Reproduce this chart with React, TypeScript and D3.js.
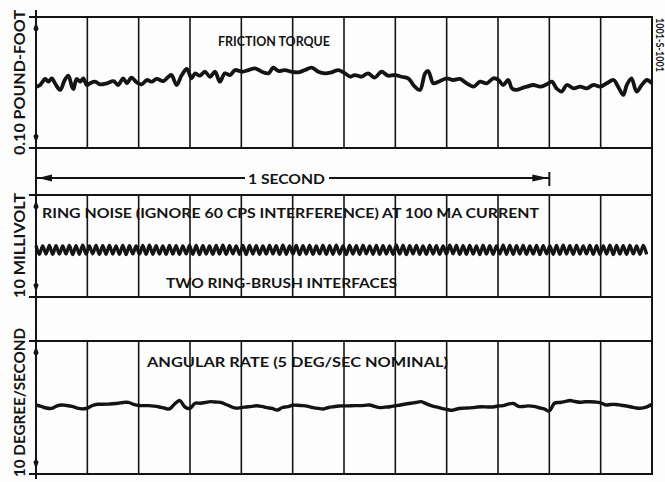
import React from "react";
import * as d3 from "d3";

// ---- Data ----
const gridTimesMs = [100, 200, 300, 400, 500, 600, 700, 800, 900, 1000, 1100];

// Friction torque trace (time in ms, torque in 0.001 lb-ft)
const torqueTime = [
  1, 8, 18, 24, 31, 37, 47, 56, 63, 70, 73, 79, 86, 92, 99, 105, 115, 125, 138, 151,
  160, 170, 177, 186, 196, 206, 216, 225, 235, 248, 258, 264, 274, 284, 294, 303, 310, 319, 329, 339,
  349, 358, 368, 378, 388, 401, 414, 427, 440, 453, 462, 472, 485, 498, 511, 524, 537, 550, 563, 576,
  589, 602, 612, 621, 634, 647, 660, 673, 686, 699, 712, 725, 738, 748, 758, 764, 774, 784, 800, 813,
  826, 839, 852, 865, 878, 891, 901, 910, 920, 927, 936, 946, 956, 969, 982, 995, 1005, 1014, 1024, 1034,
  1047, 1060, 1073, 1086, 1099, 1112, 1125, 1134, 1144, 1151, 1160, 1170, 1180, 1190, 1200,
];
const torqueValue = [
  46.8, 48.1, 52.7, 50.6, 53.2, 49.4, 44.3, 51.9, 55.2, 46.8, 45.0, 52.7, 50.6, 53.2, 48.1, 49.4, 50.6, 48.6, 49.4, 51.1,
  48.1, 53.2, 49.4, 53.7, 50.2, 48.6, 51.9, 50.6, 52.7, 51.1, 54.4, 55.7, 48.1, 55.7, 60.3, 53.2, 57.0, 55.2, 58.2, 54.4,
  58.2, 50.6, 57.0, 55.7, 59.5, 58.2, 59.5, 60.8, 58.2, 57.0, 61.3, 58.8, 59.5, 58.2, 57.8, 59.5, 61.3, 58.2, 57.0, 57.8,
  59.5, 57.0, 54.4, 55.7, 54.4, 57.0, 53.7, 58.2, 55.2, 55.7, 54.4, 53.2, 46.8, 44.3, 57.0, 58.8, 49.4, 50.6, 53.2, 51.9,
  52.7, 49.4, 46.8, 50.6, 49.4, 53.2, 51.9, 48.1, 51.9, 45.6, 44.3, 45.6, 46.8, 48.1, 46.8, 48.6, 50.6, 45.6, 43.0, 48.1,
  45.6, 46.8, 45.6, 48.1, 46.8, 49.4, 51.9, 46.8, 40.5, 48.1, 53.2, 43.0, 48.1, 51.9, 49.4,
];

// Ring noise (mV), successive crest / trough values, one every 6.5 ms
const ringStepMs = 6.5;
const ringNoise = [
  5.05, 4.18, 5.02, 4.21, 5.07, 4.17, 5.03, 4.20, 5.00, 4.22, 5.06, 4.16, 5.04, 4.19, 5.08, 4.20, 5.01, 4.23, 5.05, 4.17,
  5.03, 4.19, 5.06, 4.21, 5.02, 4.18, 5.07, 4.16, 5.04, 4.22, 5.00, 4.20, 5.05, 4.17, 5.08, 4.19, 5.03, 4.21, 5.01, 4.18,
  5.06, 4.20, 5.04, 4.17, 5.02, 4.22, 5.07, 4.19, 5.05, 4.16, 5.03, 4.21, 5.00, 4.18, 5.06, 4.20, 5.08, 4.17, 5.04, 4.23,
  5.02, 4.19, 5.05, 4.16, 5.07, 4.21, 5.03, 4.18, 5.01, 4.20, 5.06, 4.22, 5.04, 4.17, 5.08, 4.19, 5.02, 4.21, 5.05, 4.16,
  5.03, 4.20, 5.07, 4.18, 5.00, 4.22, 5.06, 4.17, 5.04, 4.19, 5.08, 4.21, 5.02, 4.16, 5.05, 4.20, 5.03, 4.18, 5.07, 4.23,
  5.01, 4.19, 5.06, 4.17, 5.04, 4.21, 5.02, 4.18, 5.08, 4.20, 5.05, 4.16, 5.03, 4.22, 5.07, 4.19, 5.00, 4.17, 5.06, 4.21,
  5.04, 4.18, 5.02, 4.20, 5.08, 4.23, 5.05, 4.17, 5.03, 4.19, 5.07, 4.21, 5.01, 4.16, 5.06, 4.20, 5.04, 4.18, 5.02, 4.22,
  5.08, 4.19, 5.05, 4.17, 5.03, 4.21, 5.07, 4.18, 5.00, 4.20, 5.06, 4.16, 5.04, 4.23, 5.02, 4.19, 5.05, 4.17, 5.08, 4.21,
  5.03, 4.18, 5.07, 4.20, 5.01, 4.22, 5.06, 4.17, 5.04, 4.19, 5.02, 4.21, 5.08, 4.16, 5.05, 4.20, 5.03, 4.18, 5.07, 4.22,
  5.01, 4.19, 5.06, 4.17,
];

// Angular rate (deg/s), one sample every 10 ms
const rateStepMs = 10;
const angularRate = [
  5.19, 5.09, 4.96, 4.93, 5.11, 5.19, 5.15, 5.08, 4.96, 4.90,
  4.96, 5.15, 5.24, 5.24, 5.25, 5.28, 5.32, 5.38, 5.38, 5.24,
  5.15, 5.14, 5.14, 5.10, 5.04, 4.96, 4.89, 5.26, 5.53, 5.04,
  4.93, 5.32, 5.32, 5.38, 5.44, 5.41, 5.39, 5.23, 5.06, 4.95,
  5.00, 5.04, 5.08, 5.13, 5.08, 4.99, 4.93, 4.81, 5.00, 5.06,
  5.17, 5.17, 5.14, 5.08, 4.99, 4.93, 4.89, 5.00, 5.06, 5.11,
  5.12, 5.12, 5.14, 5.14, 5.16, 5.19, 5.08, 4.99, 5.03, 5.06,
  5.13, 5.19, 5.26, 5.32, 5.38, 5.44, 5.29, 5.14, 5.04, 4.94,
  4.86, 4.79, 4.89, 4.94, 4.96, 4.99, 5.04, 5.06, 5.04, 5.04,
  5.11, 5.14, 5.26, 5.30, 5.08, 5.08, 5.12, 5.08, 4.98, 4.89,
  4.74, 5.32, 5.38, 5.44, 5.53, 5.45, 5.39, 5.43, 5.43, 5.41,
  5.35, 5.19, 5.23, 5.23, 5.17, 5.11, 5.04, 4.96, 4.95, 5.04,
  5.24,
];

const axisLabels = ["0.10 POUND-FOOT", "10 MILLIVOLT", "10 DEGREE/SECOND"];
const titles = {
  friction: "FRICTION TORQUE",
  second: "1 SECOND",
  ring: "RING NOISE (IGNORE 60 CPS INTERFERENCE) AT 100 MA CURRENT",
  ring2: "TWO RING-BRUSH INTERFACES",
  rate: "ANGULAR RATE (5 DEG/SEC NOMINAL)",
  figId: "1001-S-1001",
};

// ---- Layout ----
const W = 665;
const H = 482;
const X0 = 36;
const X1 = 652;
const FONT = "Lato, 'DejaVu Sans', sans-serif";
const INK = "#141414";

const x = d3.scaleLinear().domain([0, 1200]).range([X0, X1]);
const panels = [
  { top: 17, bottom: 148, y: d3.scaleLinear().domain([0, 100]).range([148, 17]) },
  { top: 195, bottom: 297, y: d3.scaleLinear().domain([0, 10]).range([297, 195]) },
  { top: 341, bottom: 474, y: d3.scaleLinear().domain([0, 10]).range([474, 341]) },
];

function CalMarker({ cx, cy, up }: { cx: number; cy: number; up: boolean }) {
  const d = up
    ? `M${cx},${cy - 6} L${cx + 2.6},${cy + 1} Q${cx},${cy + 6} ${cx - 2.6},${cy + 1} Z`
    : `M${cx},${cy + 6} L${cx + 2.6},${cy - 1} Q${cx},${cy - 6} ${cx - 2.6},${cy - 1} Z`;
  return <path d={d} fill={INK} />;
}

export default function App() {
  const line1 = d3
    .line<number>()
    .x((_, i) => x(torqueTime[i]))
    .y((v) => panels[0].y(v))
    .curve(d3.curveCatmullRom);
  const line2 = d3
    .line<number>()
    .x((_, i) => x(i * ringStepMs))
    .y((v) => panels[1].y(v))
    .curve(d3.curveCatmullRom);
  const line3 = d3
    .line<number>()
    .x((_, i) => x(i * rateStepMs))
    .y((v) => panels[2].y(v))
    .curve(d3.curveCatmullRom);

  const ringData = ringNoise.filter((_, i) => i * ringStepMs <= 1200);

  const textProps = {
    fontFamily: FONT,
    fontWeight: 700,
    fill: INK,
    lengthAdjust: "spacingAndGlyphs" as const,
  };

  return (
    <svg
      width={W}
      height={H}
      viewBox={`0 0 ${W} ${H}`}
      style={{ position: "absolute", left: 0, top: 0, background: "#fdfdfd" }}
    >
      <rect x={0} y={0} width={W} height={H} fill="#fdfdfd" />

      {/* panel frames and grid */}
      {panels.map((p, k) => (
        <g key={k}>
          {gridTimesMs.map((t) => (
            <line
              key={t}
              x1={x(t)}
              x2={x(t)}
              y1={p.top}
              y2={p.bottom}
              stroke={INK}
              strokeWidth={1.6}
            />
          ))}
          <line x1={29} x2={X1 + 1} y1={p.top} y2={p.top} stroke={INK} strokeWidth={2.2} />
          <line x1={29} x2={X1 + 1} y1={p.bottom} y2={p.bottom} stroke={INK} strokeWidth={2.2} />
          <CalMarker cx={X0} cy={p.top + 11} up={true} />
          <CalMarker cx={X0} cy={p.bottom - 11} up={false} />
        </g>
      ))}

      {/* left and right verticals */}
      <line x1={X0} x2={X0} y1={10} y2={479} stroke={INK} strokeWidth={2} />
      <line x1={X1} x2={X1} y1={17} y2={474} stroke={INK} strokeWidth={2} />

      {/* traces */}
      <path d={line1(torqueValue) ?? ""} fill="none" stroke={INK} strokeWidth={3.8} strokeLinejoin="round" />
      <path d={line2(ringData) ?? ""} fill="none" stroke={INK} strokeWidth={3.3} strokeLinejoin="round" />
      <path d={line3(angularRate) ?? ""} fill="none" stroke={INK} strokeWidth={3.4} strokeLinejoin="round" />

      {/* 1 second marker */}
      <line x1={X0} x2={245} y1={178} y2={178} stroke={INK} strokeWidth={1.8} />
      <line x1={329} x2={x(1000)} y1={178} y2={178} stroke={INK} strokeWidth={1.8} />
      <path d={`M${X0 + 2},178 L${X0 + 16},174.5 L${X0 + 16},181.5 Z`} fill={INK} />
      <path d={`M${x(1000) - 1},178 L${x(1000) - 17},174.5 L${x(1000) - 17},181.5 Z`} fill={INK} />
      <line x1={x(1000)} x2={x(1000)} y1={172} y2={186} stroke={INK} strokeWidth={2} />

      {/* titles */}
      <text x={218} y={46} fontSize={13} textLength={112} {...textProps}>
        {titles.friction}
      </text>
      <text x={248} y={183.5} fontSize={13.5} textLength={77} {...textProps}>
        {titles.second}
      </text>
      <text x={42} y={218} fontSize={13.5} textLength={497} {...textProps}>
        {titles.ring}
      </text>
      <text x={166} y={288} fontSize={13.5} textLength={231} {...textProps}>
        {titles.ring2}
      </text>
      <text x={147} y={367} fontSize={13.5} textLength={301} {...textProps}>
        {titles.rate}
      </text>

      {/* axis labels */}
      {[
        { cy: 82.5, len: 145 },
        { cy: 245.5, len: 105 },
        { cy: 402.5, len: 149 },
      ].map((l, i) => (
        <text
          key={i}
          transform={`translate(25,${l.cy}) rotate(-90)`}
          textAnchor="middle"
          fontSize={15.5}
          textLength={l.len}
          {...textProps}
        >
          {axisLabels[i]}
        </text>
      ))}

      {/* figure id */}
      <text
        transform={`translate(655.5,18) rotate(90)`}
        fontSize={10.5}
        textLength={54}
        {...textProps}
      >
        {titles.figId}
      </text>
    </svg>
  );
}
